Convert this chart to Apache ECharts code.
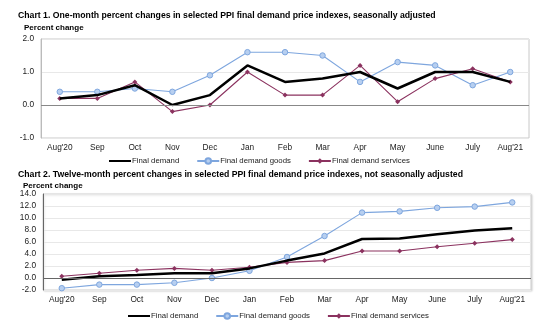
<!DOCTYPE html>
<html><head><meta charset="utf-8">
<script src="https://cdn.jsdelivr.net/npm/echarts@6/dist/echarts.min.js"></script>
<style>html,body{margin:0;padding:0;background:#fff}#c{width:550px;height:334px}</style>
</head><body><div id="c"></div>
<script>
const months = ["Aug'20","Sep","Oct","Nov","Dec","Jan","Feb","Mar","Apr","May","June","July","Aug'21"];
const seriesNames = ["Final demand","Final demand goods","Final demand services"];
// Chart 1: one-month changes (seasonally adjusted)
const c1Final    = [0.2,0.3,0.6,0.0,0.3,1.2,0.7,0.8,1.0,0.5,1.0,1.0,0.7];
const c1Goods    = [0.4,0.4,0.5,0.4,0.9,1.6,1.6,1.5,0.7,1.3,1.2,0.6,1.0];
const c1Services = [0.2,0.2,0.7,-0.2,0.0,1.0,0.3,0.3,1.2,0.1,0.8,1.1,0.7];
// Chart 2: twelve-month changes (not seasonally adjusted)
const c2Final    = [-0.3,0.3,0.5,0.8,0.8,1.6,2.9,4.1,6.5,6.6,7.3,7.9,8.3];
const c2Goods    = [-1.7,-1.1,-1.1,-0.8,0.0,1.2,3.5,7.0,10.9,11.1,11.7,11.9,12.6];
const c2Services = [0.3,0.8,1.3,1.6,1.3,1.8,2.6,2.9,4.5,4.5,5.2,5.8,6.4];
const titles = ["Chart 1. One-month percent changes in selected PPI final demand price indexes, seasonally adjusted",
                "Chart 2. Twelve-month percent changes in selected PPI final demand price indexes, not seasonally adjusted"];
const yLabel = "Percent change";

const FONT = "Liberation Sans, Arial, sans-serif";
const colors = ["#000000","#7ea6de","#8b325f"];
const chart = echarts.init(document.getElementById('c'), null, {renderer:'canvas'});

function mkSeries(name, data, gi, ci, withZero){
  const s = {
    name, type:'line', data, xAxisIndex:gi, yAxisIndex:gi,
    lineStyle:{color:colors[ci], width: ci===0?2.5:1.1},
    itemStyle:{color: ci===1 ? '#b7cff0' : colors[ci], borderColor: colors[ci], borderWidth: ci===1?1:0},
    symbol: ci===0 ? 'none' : (ci===1 ? 'circle' : 'diamond'),
    symbolSize: ci===1 ? 5.5 : 5,
    showSymbol: ci!==0, silent:true, animation:false, z: ci===0?3:2
  };
  if (withZero) {
    s.markLine = {silent:true, symbol:'none', label:{show:false},
      lineStyle:{color: gi===0?'#888':'#666', type:'solid', width:1}, data:[{yAxis:0}], animation:false};
  }
  return s;
}

const axisLabel = {color:'#222', fontFamily:FONT, fontSize:8.3};
function xAx(gi){
  return {type:'category', gridIndex:gi, data:months, boundaryGap:true,
    axisLine:{show:false}, axisTick:{show:false},
    axisLabel:{...axisLabel, margin:6, interval:0}};
}
function yAx(gi,min,max,interval){
  return {type:'value', gridIndex:gi, min, max, interval,
    axisLine:{show:true, lineStyle:{color: gi===0?'#bbb':'#666'}}, axisTick:{show:false},
    axisLabel:{...axisLabel, margin:7, formatter:v=>v.toFixed(1)},
    splitLine:{show:true, lineStyle:{color:'#e8e8e8'}}};
}
const legendData = [
  {name:seriesNames[0], itemStyle:{color:'rgba(0,0,0,0)', borderColor:'rgba(0,0,0,0)', borderWidth:0}},
  {name:seriesNames[1]},
  {name:seriesNames[2]}
];
const legendCommon = {itemWidth:22, itemHeight:7, itemGap:17, textStyle:{fontFamily:FONT, fontSize:7.8, color:'#222', padding:[0,0,0,-4]}, data:legendData};

chart.setOption({
  animation:false,
  textStyle:{fontFamily:FONT},
  title:[
    {text:titles[0], left:13, top:6, textStyle:{fontFamily:FONT, fontSize:8.7, fontWeight:'bold', color:'#000'}},
    {text:yLabel, left:19, top:19, textStyle:{fontFamily:FONT, fontSize:8, fontWeight:'bold', color:'#000'}},
    {text:titles[1], left:13, top:165, textStyle:{fontFamily:FONT, fontSize:8.7, fontWeight:'bold', color:'#000'}},
    {text:yLabel, left:18, top:177, textStyle:{fontFamily:FONT, fontSize:8, fontWeight:'bold', color:'#000'}}
  ],
  grid:[
    {left:41, top:39, right:21, height:99, show:true, borderColor:'#c8c8c8', borderWidth:1},
    {left:43, top:194, right:19, height:96, show:true, borderColor:'#d0d0d0', borderWidth:1, shadowColor:'rgba(0,0,0,0.15)', shadowBlur:2, shadowOffsetX:1, shadowOffsetY:1, backgroundColor:'#fff'}
  ],
  xAxis:[xAx(0), xAx(1)],
  yAxis:[yAx(0,-1,2,1), yAx(1,-2,14,2)],
  legend:[
    {...legendCommon, left:103, top:152},
    {...legendCommon, left:122, top:307}
  ],
  series:[
    mkSeries(seriesNames[0], c1Final, 0, 0, true),
    mkSeries(seriesNames[1], c1Goods, 0, 1, false),
    mkSeries(seriesNames[2], c1Services, 0, 2, false),
    mkSeries(seriesNames[0], c2Final, 1, 0, true),
    mkSeries(seriesNames[1], c2Goods, 1, 1, false),
    mkSeries(seriesNames[2], c2Services, 1, 2, false)
  ]
});
</script></body></html>
